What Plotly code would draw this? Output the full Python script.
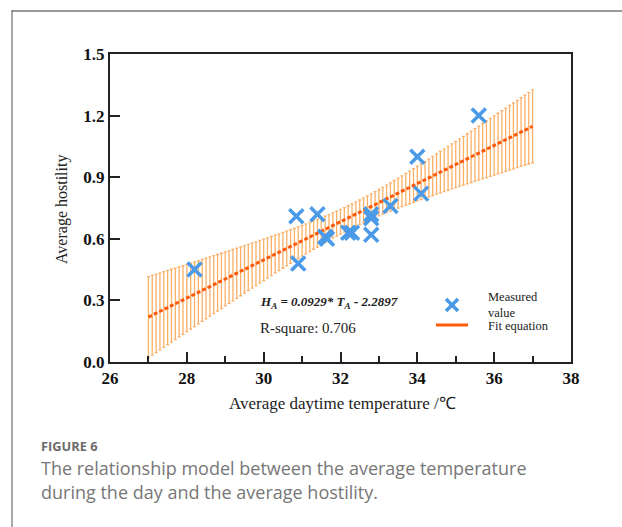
import numpy as np
import plotly.graph_objects as go

# ---- data ----
temp_measured = [28.2, 30.9, 30.85, 31.4, 31.6, 31.65, 32.2, 32.3, 32.8, 32.8, 32.8, 33.3, 34.0, 34.1, 35.6]
host_measured = [0.45, 0.48, 0.71, 0.72, 0.61, 0.60, 0.63, 0.63, 0.72, 0.70, 0.62, 0.76, 1.00, 0.82, 1.20]
fit_slope = 0.0929          # from the equation printed on the chart
fit_intercept = -2.2897
fit_x_start, fit_x_end, fit_x_step = 27.0, 37.0, 0.1
x_ticks = [26, 28, 30, 32, 34, 36, 38]
y_ticks = [0.0, 0.3, 0.6, 0.9, 1.2, 1.5]

# ---- fitted line and its 95% confidence band (derived from measured data) ----
fit_x = np.round(np.arange(fit_x_start, fit_x_end + fit_x_step / 2, fit_x_step), 2)
fit_y = fit_slope * fit_x + fit_intercept
xm = np.array(temp_measured); ym = np.array(host_measured)
n = len(xm)
resid = ym - (fit_slope * xm + fit_intercept)
s = np.sqrt(np.sum(resid ** 2) / (n - 2))
sxx = np.sum((xm - xm.mean()) ** 2)
t95 = 2.160
half = t95 * s * np.sqrt(1 / n + (fit_x - xm.mean()) ** 2 / sxx)

W, H = 622, 527
L, R, T, B = 110, 571, 54, 362


def px(x):
    return (x - L) / (R - L)


def py(y):
    return (B - y) / (B - T)


SERIF = "Liberation Serif"
BLUE = "#4A9AE8"
ORANGE = "#FF5A0A"
fig = go.Figure()

fig.add_trace(go.Scatter(
    x=fit_x, y=fit_y, mode="markers",
    marker=dict(size=1, opacity=0),
    error_y=dict(type="data", array=half, arrayminus=half, symmetric=False,
                 color="#FCB067", thickness=1.3, width=1.5),
    showlegend=False, hoverinfo="skip"))

fig.add_trace(go.Scatter(
    x=fit_x, y=fit_y, mode="lines", name="Fit equation",
    line=dict(color=ORANGE, width=3, dash="4px,2px"),
    showlegend=False))

fig.add_trace(go.Scatter(
    x=temp_measured, y=host_measured, mode="markers", name="Measured value",
    marker=dict(symbol="x-thin", size=14, line=dict(width=3.5, color=BLUE), color=BLUE),
    showlegend=False))

axis_common = dict(showline=True, linecolor="#222", linewidth=2, mirror=True,
                   ticks="inside", ticklen=10, tickwidth=2, tickcolor="#222",
                   showgrid=False, zeroline=False,
                   tickfont=dict(family=SERIF, size=17, color="#111", weight="bold"))

fig.update_xaxes(range=[26, 38], tickvals=x_ticks, ticktext=[str(v) for v in x_ticks],
                 minor=dict(ticks="inside", ticklen=6, tickwidth=2, tickcolor="#222", dtick=1, tick0=26),
                 **axis_common)
fig.update_yaxes(range=[0, 1.5], tickvals=y_ticks, ticktext=[f"{v:.1f}" for v in y_ticks],
                 **axis_common)

ann = [
    dict(x=px(62), y=py(210), text="Average hostility", textangle=-90,
         font=dict(family=SERIF, size=16, color="#222")),
    dict(x=px(342), y=py(403), text="Average daytime temperature /℃",
         font=dict(family=SERIF, size=17, color="#222")),
    dict(x=px(258), y=py(302), xanchor="left",
         text="<b><i>H<sub>A</sub> = 0.0929* T<sub>A</sub> - 2.2897</i></b>",
         font=dict(family=SERIF, size=13, color="#222")),
    dict(x=px(258), y=py(328), xanchor="left", text="R-square: 0.706",
         font=dict(family=SERIF, size=15, color="#222")),
    # legend texts
    dict(x=px(486), y=py(304.5), xanchor="left", align="left", text="Measured<br>value",
         font=dict(family=SERIF, size=12.5, color="#222")),
    dict(x=px(486), y=py(326), xanchor="left", text="Fit equation",
         font=dict(family=SERIF, size=12.5, color="#222")),
    # caption
    dict(x=px(39), y=py(446), xanchor="left", text="<b>FIGURE 6</b>",
         font=dict(family="Open Sans", size=12.8, color="#6a6a6a")),
    dict(x=px(39), y=py(468), xanchor="left",
         text="The relationship model between the average temperature",
         font=dict(family="Open Sans", size=18, color="#777")),
    dict(x=px(39), y=py(492), xanchor="left",
         text="during the day and the average hostility.",
         font=dict(family="Open Sans", size=18, color="#777")),
]
for a in ann:
    a.update(xref="paper", yref="paper", showarrow=False)
    a.setdefault("xanchor", "center")
    a.setdefault("yanchor", "middle")

shapes = [
    # card border
    dict(type="line", xref="paper", yref="paper", x0=px(12), x1=px(640), y0=py(11), y1=py(11),
         line=dict(color="#999", width=2)),
    dict(type="line", xref="paper", yref="paper", x0=px(12), x1=px(12), y0=py(10), y1=py(540),
         line=dict(color="#555", width=1)),
    # legend symbols
    dict(type="line", xref="paper", yref="paper", x0=px(446), x1=px(458), y0=py(299), y1=py(311),
         line=dict(color=BLUE, width=3.5)),
    dict(type="line", xref="paper", yref="paper", x0=px(446), x1=px(458), y0=py(311), y1=py(299),
         line=dict(color=BLUE, width=3.5)),
    dict(type="line", xref="paper", yref="paper", x0=px(436), x1=px(468), y0=py(325), y1=py(325),
         line=dict(color=ORANGE, width=3)),
]

fig.update_layout(
    width=W, height=H,
    margin=dict(l=L, r=W - R, t=T, b=H - B),
    plot_bgcolor="white", paper_bgcolor="white",
    annotations=ann, shapes=shapes, showlegend=False,
)

fig.write_html("out.html")
